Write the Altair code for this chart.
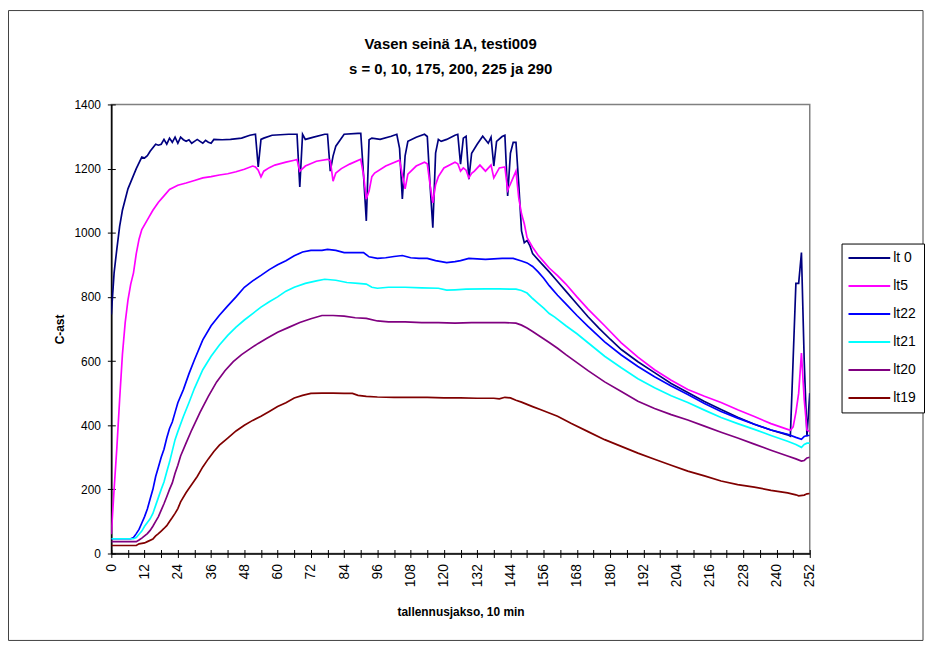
import altair as alt
import pandas as pd

# ---------------- data ----------------
series_names = ["lt 0", "lt5", "lt22", "lt21", "lt20", "lt19"]
series_colors = ["#000080", "#FF00FF", "#0000FF", "#00FFFF", "#800080", "#800000"]

lt0_x = [0, 1, 2, 3, 4, 6, 9, 11, 12, 13, 14, 16, 17, 18, 19, 20, 21, 22, 23, 24, 25, 26, 27,
         28, 29, 30, 31, 32, 33, 34, 35, 36, 37, 40, 43, 47, 50, 52, 53, 54, 55, 58, 64, 67, 68,
         69, 70, 73, 77, 78, 79, 80, 81, 84, 89, 90, 91, 92, 93, 94, 97, 101, 103, 104, 105, 106,
         107, 110, 113, 114, 115, 116, 117, 118, 119, 121, 124, 125, 126, 127, 128, 129, 130, 132,
         134, 135, 136, 137, 138, 139, 141, 142, 143, 144, 145, 146, 147, 148, 149, 150, 151, 152,
         155, 158, 161, 164, 168, 172, 176, 180, 184, 190, 196, 202, 208, 214, 220, 226, 232, 238,
         244, 245, 246, 247, 248, 249, 250, 251, 252]
lt0_y = [745, 875, 950, 1020, 1070, 1137, 1200, 1236, 1233, 1240, 1254, 1276, 1273, 1276, 1291,
         1276, 1295, 1282, 1298, 1279, 1298, 1290, 1285, 1290, 1279, 1285, 1291, 1285, 1279, 1288,
         1282, 1279, 1291, 1290, 1291, 1295, 1304, 1307, 1205, 1291, 1295, 1304, 1307, 1307, 1143,
         1307, 1291, 1298, 1307, 1307, 1192, 1239, 1270, 1307, 1310, 1310, 1180, 1037, 1290, 1295,
         1291, 1301, 1307, 1263, 1105, 1240, 1285, 1298, 1307, 1300, 1150, 1016, 1248, 1291, 1285,
         1291, 1304, 1307, 1214, 1295, 1301, 1167, 1248, 1276, 1301, 1290, 1279, 1298, 1208, 1285,
         1300, 1304, 1115, 1248, 1282, 1282, 1152, 1006, 969, 976, 960, 935, 906, 878, 848, 818,
         778, 738, 702, 668, 636, 598, 564, 530, 502, 474, 449, 425, 403, 385, 370, 366, 604, 842,
         842, 938, 600, 365, 500]

lt5_x = [0, 1, 2, 3, 4, 5, 6, 7, 8, 9, 10, 11, 13, 15, 17, 19, 21, 24, 27, 30, 33, 36, 39, 42,
         45, 48, 51, 52, 53, 54, 55, 57, 59, 63, 66, 67, 68, 69, 70, 74, 78, 79, 80, 81, 83, 86,
         90, 91, 92, 93, 94, 95, 99, 104, 105, 106, 107, 110, 113, 114, 115, 116, 117, 118, 120,
         124, 125, 126, 127, 128, 129, 130, 131, 133, 135, 137, 138, 140, 142, 143, 144, 146, 147,
         148, 149, 150, 152, 154, 156, 158, 161, 164, 168, 172, 178, 184, 190, 196, 202, 208, 214,
         220, 226, 232, 238, 244, 245, 246, 247, 248, 249, 250, 251, 252]
lt5_y = [60, 200, 330, 480, 620, 720, 790, 840, 875, 935, 980, 1010, 1040, 1070, 1095, 1115, 1135,
         1148, 1155, 1163, 1171, 1175, 1180, 1184, 1190, 1198, 1208, 1205, 1195, 1174, 1192, 1203,
         1211, 1220, 1226, 1228, 1192, 1200, 1208, 1223, 1229, 1225, 1161, 1186, 1200, 1214, 1229,
         1180, 1105, 1130, 1175, 1186, 1208, 1226, 1180, 1137, 1183, 1208, 1220, 1215, 1150, 1093,
         1150, 1175, 1202, 1220, 1215, 1192, 1202, 1195, 1171, 1185, 1192, 1211, 1192, 1211, 1171,
         1202, 1205, 1133, 1152, 1192, 1109, 1059, 1028, 985, 955, 930, 910, 890, 866, 840, 800, 762,
         710, 657, 612, 573, 540, 511, 490, 471, 448, 427, 405, 387, 384, 395, 440, 500, 625, 480,
         385, 380]

lt22_x = [0, 7, 8, 9, 10, 11, 12, 13, 14, 15, 16, 17, 18, 19, 20, 21, 22, 23, 24, 26, 28, 30, 33,
          36, 39, 42, 45, 48, 51, 54, 57, 60, 63, 66, 69, 72, 76, 78, 81, 84, 88, 91, 93, 96, 99,
          102, 105, 108, 111, 114, 117, 121, 124, 126, 129, 135, 141, 145, 148, 150, 152, 154,
          156, 158, 161, 164, 168, 172, 178, 184, 190, 196, 202, 208, 214, 220, 226, 232, 238, 244,
          247, 249, 250, 251, 252]
lt22_y = [46, 46, 50, 62, 75, 95, 115, 139, 170, 200, 240, 270, 300, 325, 360, 390, 410, 440, 470,
          511, 560, 604, 666, 710, 743, 772, 800, 830, 850, 867, 885, 900, 913, 928, 940, 945, 945,
          948, 945, 938, 938, 938, 925, 920, 922, 926, 929, 922, 920, 920, 913, 907, 910, 913, 920,
          917, 920, 920, 912, 906, 895, 878, 858, 835, 805, 778, 742, 708, 660, 619, 583, 551, 522,
          496, 468, 443, 422, 403, 385, 372, 362, 356, 365, 368, 368]

lt21_x = [0, 8, 9, 10, 11, 12, 13, 14, 15, 16, 17, 18, 19, 20, 21, 22, 23, 24, 26, 28, 30, 33, 36,
          39, 42, 45, 48, 51, 54, 57, 60, 63, 66, 70, 74, 77, 81, 85, 89, 92, 94, 96, 100, 106,
          112, 118, 121, 124, 128, 135, 140, 146, 148, 150, 152, 154, 156, 158, 160, 164, 168, 172,
          178, 184, 190, 196, 202, 208, 214, 220, 226, 232, 238, 244, 247, 249, 250, 251, 252]
lt21_y = [46, 46, 50, 60, 70, 85, 97, 108, 125, 150, 175, 200, 223, 255, 285, 320, 355, 380, 427,
          470, 515, 573, 615, 650, 680, 706, 728, 748, 768, 785, 800, 818, 830, 842, 850, 855, 852,
          845, 842, 840, 830, 827, 830, 830, 828, 827, 821, 822, 824, 825, 825, 824, 820, 812, 795,
          780, 765, 748, 737, 710, 685, 657, 615, 579, 545, 517, 492, 471, 447, 424, 405, 387, 368,
          350, 340, 331, 340, 344, 344]

lt20_x = [0, 9, 10, 11, 12, 13, 14, 15, 16, 17, 18, 19, 20, 21, 22, 23, 24, 25, 27, 29, 32, 35, 38,
          41, 44, 47, 50, 53, 56, 60, 64, 68, 72, 76, 80, 84, 88, 92, 96, 100, 106, 112, 118, 124,
          130, 136, 142, 146, 148, 150, 152, 155, 158, 161, 164, 168, 172, 178, 184, 190, 196, 202,
          208, 214, 220, 226, 232, 238, 244, 247, 249, 250, 251, 252]
lt20_y = [37, 37, 42, 48, 55, 62, 72, 85, 100, 115, 135, 155, 177, 200, 220, 250, 275, 304, 345,
          385, 440, 490, 535, 570, 598, 620, 638, 655, 670, 690, 705, 720, 732, 742, 742, 740, 735,
          733, 725, 722, 722, 720, 720, 718, 720, 720, 720, 718, 712, 703, 692, 675, 658, 640, 620,
          595, 570, 535, 505, 475, 452, 433, 416, 397, 378, 360, 341, 322, 304, 295, 288, 290, 298,
          300]

lt19_x = [0, 9, 10, 12, 13, 15, 16, 17, 18, 19, 20, 21, 22, 23, 24, 25, 27, 29, 31, 33, 35, 37, 39,
          42, 45, 48, 51, 54, 57, 60, 63, 66, 69, 72, 76, 80, 84, 87, 89, 92, 96, 102, 108, 114,
          120, 126, 132, 138, 140, 142, 144, 146, 148, 150, 152, 155, 158, 161, 166, 172, 178, 184,
          190, 196, 202, 208, 214, 220, 226, 232, 238, 244, 247, 248, 250, 251, 252]
lt19_y = [25, 25, 30, 33, 37, 45, 55, 62, 70, 78, 87, 100, 112, 125, 140, 161, 190, 215, 240, 270,
          295, 318, 338, 360, 382, 400, 415, 428, 443, 458, 470, 485, 493, 499, 500, 500, 499, 499,
          493, 490, 488, 487, 487, 487, 485, 485, 484, 484, 482, 487, 485, 478, 472, 465, 458, 448,
          438, 428, 405, 380, 355, 334, 313, 294, 275, 257, 242, 226, 215, 207, 197, 189, 183, 180,
          182, 186, 187]

x_ticks = list(range(0, 253, 6))
y_ticks = [0, 200, 400, 600, 800, 1000, 1200, 1400]

# ---------------- table ----------------
all_series = [
    (lt0_x, lt0_y), (lt5_x, lt5_y), (lt22_x, lt22_y),
    (lt21_x, lt21_y), (lt20_x, lt20_y), (lt19_x, lt19_y),
]
rows = []
for i, (name, (xs, ys)) in enumerate(zip(series_names, all_series)):
    for xv, yv in zip(xs, ys):
        rows.append({"series": name, "idx": i, "x": xv, "v": yv})
df = pd.DataFrame(rows)

FONT = "Liberation Sans"
W, H = 703, 452

x_scale = alt.Scale(domain=[0, 252], nice=False, zero=False)
y_scale = alt.Scale(domain=[0, 1400], nice=False)
color_scale = alt.Scale(domain=series_names, range=series_colors)

legend = alt.Legend(
    title=None, orient="none", legendX=735, legendY=140,
    strokeColor="#000000", fillColor="#ffffff", padding=7.5,
    symbolType="M-4.2,0L4.2,0", symbolSize=100, symbolStrokeWidth=2,
    symbolOffset=13.5, labelOffset=17, rowPadding=14.2,
    labelFont=FONT, labelFontSize=14, labelColor="#000000",
)

x_axis_main = alt.Axis(
    values=x_ticks, labelExpr="datum.value % 12 == 0 ? datum.label : ''",
    labelAngle=270, labelFont=FONT, labelFontSize=14, labelColor="#000000",
    labelPadding=10, ticks=False, tickSize=0, domainColor="#000000", domainWidth=1.5,
    grid=False, title="tallennusjakso, 10 min", titleFont=FONT, titleFontSize=12,
    titleFontWeight="bold", titleColor="#000000", titleX=351.5, titleY=58,
    titleBaseline="middle", titleAlign="center", orient="bottom", labelOverlap=False,
)
y_axis_main = alt.Axis(
    values=y_ticks, format="d", labelFont=FONT, labelFontSize=12, labelColor="#000000",
    labelPadding=11, ticks=False, tickSize=0, domainColor="#000000", domainWidth=1.5,
    grid=False, title="C-ast", titleFont=FONT, titleFontSize=12, titleFontWeight="bold",
    titleColor="#000000", titleX=-52, titleY=226, titleAngle=270, titleAlign="center",
    titleBaseline="middle", orient="left",
)
x_axis_ticks = alt.Axis(
    values=x_ticks, labels=False, domain=False, ticks=True, tickSize=8, offset=-4,
    tickColor="#000000", tickWidth=1, grid=False, title=None, orient="bottom",
)
y_axis_ticks = alt.Axis(
    values=y_ticks, labels=False, domain=False, ticks=True, tickSize=8, offset=-4,
    tickColor="#000000", tickWidth=1, grid=False, title=None, orient="left",
)

# outer chart-area frame (decoration, in pixels relative to the plot area)
frame = alt.Chart(pd.DataFrame({"f": [0]})).mark_rect(
    fill=None, stroke="#404040", strokeWidth=1, clip=False
).encode(
    x=alt.value(-103.5), x2=alt.value(817), y=alt.value(-94.5), y2=alt.value(539.5)
)

lines = alt.Chart(df).mark_line(strokeWidth=1.7, clip=True).encode(
    x=alt.X("x:Q", scale=x_scale, axis=x_axis_main),
    y=alt.Y("v:Q", scale=y_scale, axis=y_axis_main),
    color=alt.Color("series:N", scale=color_scale, legend=legend, sort=series_names),
    detail="idx:O",
)

tick_layer = alt.Chart(df).mark_line(opacity=0).encode(
    x=alt.X("x:Q", scale=x_scale, axis=x_axis_ticks),
    y=alt.Y("v:Q", scale=y_scale, axis=y_axis_ticks),
    detail="idx:O",
)

chart = alt.layer(frame, lines, tick_layer).resolve_axis(
    x="independent", y="independent"
).properties(
    width=W, height=H,
    title=alt.TitleParams(
        text=["Vasen seinä 1A, testi009", "s = 0, 10, 175, 200, 225 ja 290"],
        font=FONT, fontSize=15, fontWeight="bold", color="#000000",
        anchor="middle", frame="group", offset=-67, lineHeight=25, dx=-10,
    ),
    padding={"left": 104, "top": 95, "right": 116, "bottom": 88},
    autosize=alt.AutoSizeParams(type="none"),
    background="#ffffff",
).configure_view(stroke="#808080", strokeWidth=1.5)

chart.save("out.html", embed_options={"renderer": "svg", "actions": False})
